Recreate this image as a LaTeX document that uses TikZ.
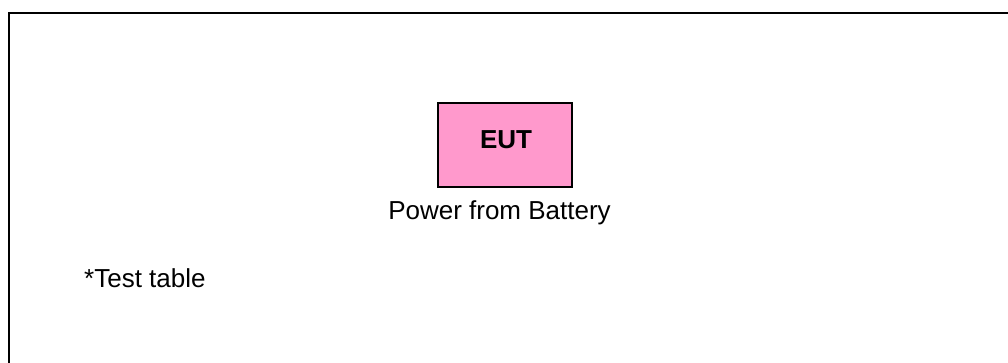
\documentclass[tikz,border=0pt]{standalone}
\usepackage{fontspec}
\setmainfont{Liberation Sans}
\definecolor{eutpink}{RGB}{255,153,204}
\begin{document}
\begin{tikzpicture}[x=1pt,y=-1pt,
  lbl/.style={inner sep=0pt,font=\fontsize{26}{31}\selectfont},
  eutbox/.style={draw=black,line width=1.5pt,fill=eutpink,inner sep=0pt}]
\useasboundingbox (0,0) rectangle (1008,363);
% frame (top and left edges)
\coordinate (fl) at (9,363);
\coordinate (fc) at (9,13);
\coordinate (fr) at (1008,13);
\draw[line width=2.5pt,line cap=rect] (fl) -- (fc) -- (fr);
% EUT box
\node[eutbox,minimum width=134pt,minimum height=84pt] (eut) at (505,145) {};
\node[lbl,anchor=base,font=\fontsize{26}{31}\selectfont\bfseries] (euttxt) at (506,149) {EUT};
\node[lbl,anchor=base] (power) at (499.5,220) {Power from Battery};
\node[lbl,anchor=base west] (table) at (84,287) {*Test table};
\end{tikzpicture}
\end{document}
